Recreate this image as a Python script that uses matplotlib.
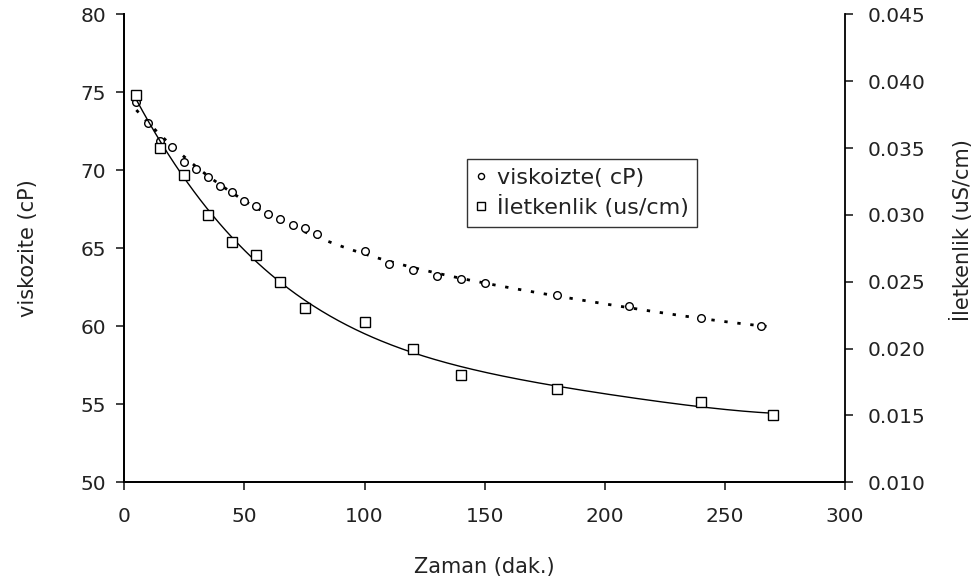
import numpy as np
import matplotlib.pyplot as plt
from matplotlib.ticker import FormatStrFormatter

plt.rcParams['font.family'] = ['DejaVu Sans']

# ---- Data ----------------------------------------------------------------
# viscosity readings (left axis, cP)
visc_time = [5, 10, 15, 20, 25, 30, 35, 40, 45, 50, 55, 60, 65, 70, 75, 80,
             100, 110, 120, 130, 140, 150, 180, 210, 240, 265]
visc_vals = [74.4, 73.0, 71.9, 71.5, 70.5, 70.1, 69.6, 69.0, 68.6, 68.0, 67.7,
             67.2, 66.9, 66.5, 66.3, 65.9, 64.8, 64.0, 63.6, 63.2, 63.0, 62.8,
             62.0, 61.3, 60.5, 60.0]

# conductivity readings (right axis, uS/cm)
cond_time = [5, 15, 25, 35, 45, 55, 65, 75, 100, 120, 140, 180, 240, 270]
cond_vals = [0.039, 0.035, 0.033, 0.030, 0.028, 0.027, 0.025, 0.023, 0.022,
             0.020, 0.018, 0.017, 0.016, 0.015]

x_ticks = [0, 50, 100, 150, 200, 250, 300]
left_ticks = [50, 55, 60, 65, 70, 75, 80]
right_ticks = [0.010, 0.015, 0.020, 0.025, 0.030, 0.035, 0.040, 0.045]

# ---- Figure setup --------------------------------------------------------
fig = plt.figure(figsize=(9.76, 5.86), dpi=100)
ax = fig.add_axes([0.1274, 0.177, 0.7384, 0.7986])
ax2 = ax.twinx()

# polynomial trend lines through each series
t_fit = np.linspace(5, 270, 300)
visc_fit = np.polyval(np.polyfit(visc_time, visc_vals, 4), t_fit)
cond_fit = np.polyval(np.polyfit(cond_time, cond_vals, 4), t_fit)

ax.plot(t_fit, visc_fit, color="black", lw=2.0, ls=(0, (1.2, 3.5)), zorder=2)
hv, = ax.plot(visc_time, visc_vals, ls="none", marker="o", ms=5.5,
              mfc="white", mec="black", mew=1.0, zorder=3)

ax2.plot(t_fit, cond_fit, color="black", lw=1.0, zorder=2)
hc, = ax2.plot(cond_time, cond_vals, ls="none", marker="s", ms=7.5,
               mfc="white", mec="black", mew=1.0, zorder=3)

# ---- Axes ----------------------------------------------------------------
ax.set_xlim(0, 300)
ax.set_ylim(50, 80)
ax2.set_ylim(0.010, 0.045)
ax.set_xticks(x_ticks)
ax.set_yticks(left_ticks)
ax2.set_yticks(right_ticks)
ax2.yaxis.set_major_formatter(FormatStrFormatter("%.3f"))

for a in (ax, ax2):
    a.tick_params(direction="out", length=6, width=1.2, labelsize=14.5,
                  colors="#222222", pad=7)
    for s in a.spines.values():
        s.set_linewidth(1.3)
    a.spines["top"].set_visible(False)
ax.spines["right"].set_visible(False)
ax.tick_params(axis="x", pad=12)
ax2.tick_params(axis="y", pad=10)

ax.set_xlabel("Zaman (dak.)", fontsize=15, color="#222222")
ax.xaxis.set_label_coords(0.5, -0.16)
ax.set_ylabel("viskozite (cP)", fontsize=15, color="#222222")
ax.yaxis.set_label_coords(-0.12, 0.5)
ax2.set_ylabel("İletkenlik (uS/cm)", fontsize=15, color="#222222")
ax2.yaxis.set_label_coords(1.145, 0.54)

leg = ax.legend([hv, hc], ["viskoizte( cP)", "İletkenlik (us/cm)"],
                loc="upper left", bbox_to_anchor=(0.475, 0.69),
                borderaxespad=0, fontsize=16, frameon=True, fancybox=False,
                handlelength=0.5, handletextpad=0.45, borderpad=0.4,
                labelspacing=0.3, markerscale=0.8)
leg.get_frame().set_edgecolor("black")
leg.get_frame().set_linewidth(1.0)
for t in leg.get_texts():
    t.set_color("#222222")

fig.savefig("out.png", dpi=100)
